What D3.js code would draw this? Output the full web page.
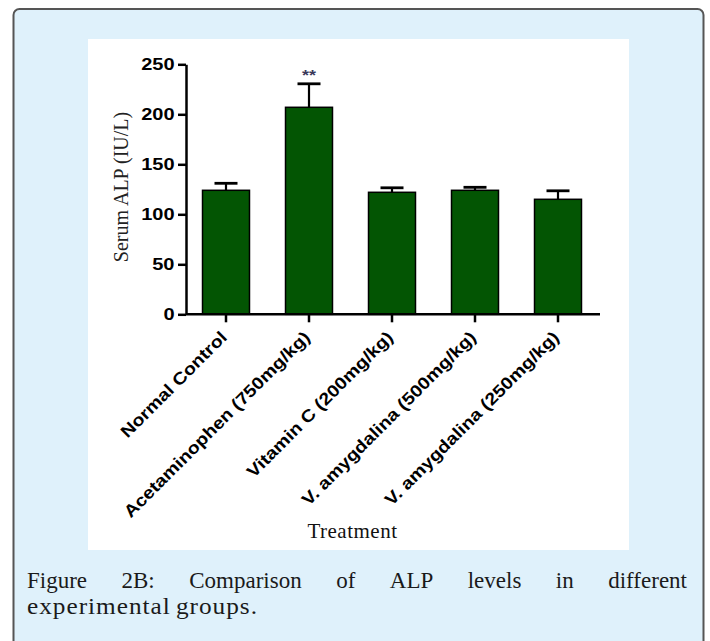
<!DOCTYPE html>
<html><head><meta charset="utf-8">
<script src="https://cdn.jsdelivr.net/npm/d3@7"></script>
<style>
html,body{margin:0;padding:0;background:#fff;}
svg{display:block;}
</style></head>
<body>
<svg id="chart" width="710" height="641"></svg>
<script>
// ---- data ----
const categories = ["Normal Control", "Acetaminophen (750mg/kg)", "Vitamin C (200mg/kg)", "V. amygdalina (500mg/kg)", "V. amygdalina (250mg/kg)"];
const means = [124, 207, 122, 124, 115];
const sems = [7, 23.5, 4.5, 3, 8.5];
const significance = ["", "**", "", "", ""];
const yTicks = [0, 50, 100, 150, 200, 250];
const yLabel = "Serum ALP (IU/L)";
const xLabel = "Treatment";
const captionLine1 = ["Figure", "2B:", "Comparison", "of", "ALP", "levels", "in", "different"];
const captionLine2 = "experimental groups.";

const svg = d3.select("#chart");

// panel
svg.append("rect").attr("x", 13.5).attr("y", 9).attr("width", 690).attr("height", 660)
  .attr("rx", 6).attr("fill", "#dff1fb").attr("stroke", "#555").attr("stroke-width", 2);
svg.append("rect").attr("x", 88).attr("y", 39).attr("width", 541).attr("height", 511).attr("fill", "#fff");

const x = d3.scaleBand().domain(categories).range([184.5, 599.5]).paddingInner(0.434).paddingOuter(0.217);
const y = d3.scaleLinear().domain([0, 250]).range([314.3, 64.3]);
const tickFont = "'Liberation Sans', Arial, sans-serif";

// bars
const g = svg.append("g");
g.selectAll("rect.bar").data(categories).join("rect")
  .attr("class", "bar")
  .attr("x", d => x(d)).attr("width", x.bandwidth())
  .attr("y", (d, i) => y(means[i])).attr("height", (d, i) => y(0) - y(means[i]))
  .attr("fill", "#035503").attr("stroke", "#000").attr("stroke-width", 1.5);

// error bars (upper only)
categories.forEach((c, i) => {
  const cx = x(c) + x.bandwidth() / 2;
  const top = y(means[i] + sems[i]);
  g.append("line").attr("x1", cx).attr("x2", cx).attr("y1", y(means[i])).attr("y2", top)
    .attr("stroke", "#000").attr("stroke-width", 2.2);
  g.append("line").attr("x1", cx - 11.5).attr("x2", cx + 11.5).attr("y1", top).attr("y2", top)
    .attr("stroke", "#000").attr("stroke-width", 2.8);
  if (significance[i]) {
    g.append("text").attr("transform", `translate(${cx},${top - 4}) scale(1.2,1)`)
      .attr("text-anchor", "middle").attr("font-family", tickFont).attr("font-weight", "bold")
      .attr("font-size", 15).attr("fill", "#3a3a5a").text(significance[i]);
  }
});

// y axis
const YST = 1.25;
const yAxis = svg.append("g").attr("transform", "translate(186,0)")
  .call(d3.axisLeft(y).tickValues(yTicks).tickSize(8).tickSizeOuter(0).tickPadding(3));
yAxis.select(".domain").attr("stroke", "#000").attr("stroke-width", 2.5);
yAxis.selectAll(".tick line").attr("stroke", "#000").attr("stroke-width", 2.5);
yAxis.selectAll(".tick text")
  .attr("font-family", tickFont).attr("font-weight", "bold").attr("font-size", 16).attr("fill", "#000")
  .attr("x", -11.5 / YST).attr("transform", `scale(${YST},1)`);

// x axis
const xAxis = svg.append("g").attr("transform", `translate(0,${y(0)})`)
  .call(d3.axisBottom(x).tickSize(8).tickSizeOuter(0));
xAxis.select(".domain").attr("stroke", "#000").attr("stroke-width", 2.5)
  .attr("d", "M186,0H600");
xAxis.selectAll(".tick line").attr("stroke", "#000").attr("stroke-width", 2.5);
xAxis.selectAll(".tick text").remove();

// rotated category labels
const XST = 1.15;
svg.append("g").selectAll("text").data(categories).join("text")
  .attr("transform", d => `translate(${x(d) + x.bandwidth() / 2 + 2},${y(0) + 24}) rotate(-45) scale(${XST},1)`)
  .attr("text-anchor", "end")
  .attr("font-family", tickFont).attr("font-weight", "bold").attr("font-size", 17).attr("fill", "#000")
  .text(d => d);

// axis titles
svg.append("text").attr("transform", "translate(128,187) rotate(-90)")
  .attr("text-anchor", "middle").attr("font-family", "'Liberation Serif', 'Times New Roman', serif")
  .attr("font-size", 20).attr("fill", "#222").text(yLabel);
svg.append("text").attr("x", 352.5).attr("y", 537.7)
  .attr("text-anchor", "middle").attr("font-family", "'Liberation Serif', 'Times New Roman', serif")
  .attr("font-size", 21).attr("letter-spacing", 0.5).attr("fill", "#111").text(xLabel);

// caption, justified line 1
const capFont = "'Liberation Serif', 'Times New Roman', serif";
const cap = svg.append("g").attr("font-family", capFont).attr("fill", "#1a1a1a");
const words = cap.selectAll("text.w").data(captionLine1).join("text").attr("class", "w")
  .attr("font-size", 23).attr("y", 588).text(d => d);
const widths = [];
words.each(function () { widths.push(this.getComputedTextLength()); });
const left = 27, right = 687;
const gap = (right - left - d3.sum(widths)) / (captionLine1.length - 1);
let cx = left;
words.attr("x", (d, i) => { const v = cx; cx += widths[i] + gap; return v; });
cap.append("text").attr("transform", `translate(${left},614) scale(1.1,1)`)
  .attr("font-size", 23).attr("letter-spacing", 0.9).attr("word-spacing", -2).text(captionLine2);
</script>
</body></html>
